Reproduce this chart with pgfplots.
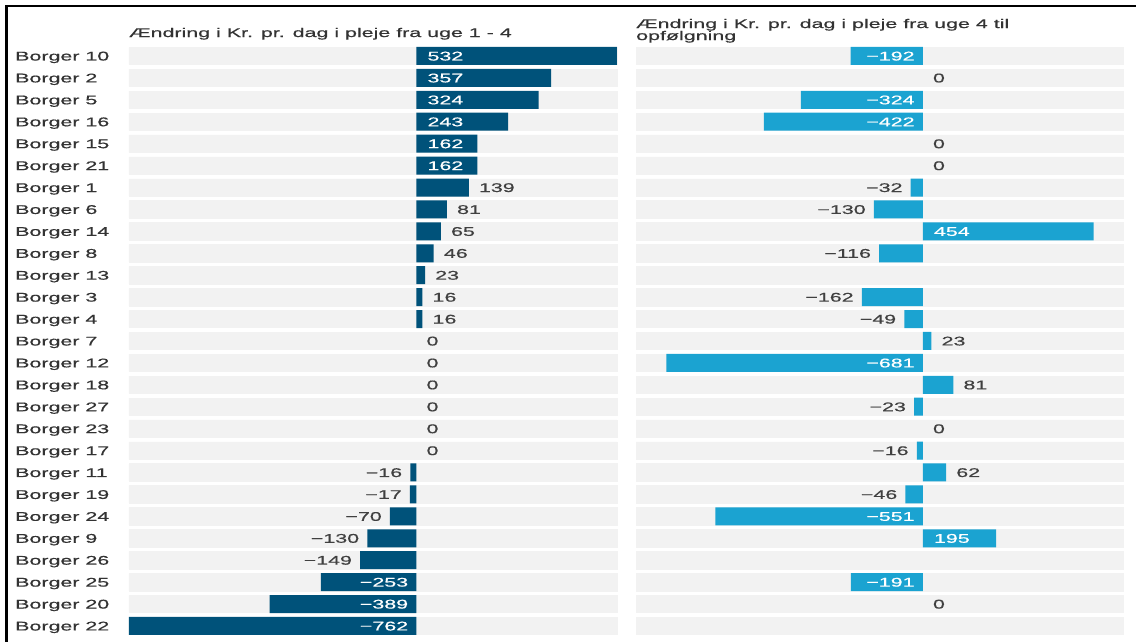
\documentclass[border=0pt]{standalone}
\usepackage{pgfplots}
\pgfplotsset{compat=1.18}
\usepackage{pgfplotstable}
\usepackage{fontspec}
\setmainfont{Liberation Sans}[FakeStretch=1.7, FakeBold=0.6]
\definecolor{dark}{HTML}{00527A}
\definecolor{light}{HTML}{1BA3D1}
\definecolor{band}{HTML}{F2F2F2}
\definecolor{txt}{HTML}{333333}
\definecolor{vtxt}{HTML}{404040}
\newcommand{\cf}{\fontsize{12.6}{12}\selectfont}

\pgfplotstableread{
row v t lab
0 532 1 532
1 357 1 357
2 324 1 324
3 243 1 243
4 162 1 162
5 162 1 162
6 139 2 139
7 81 2 81
8 65 2 65
9 46 2 46
10 23 2 23
11 16 2 16
12 16 2 16
13 0 2 0
14 0 2 0
15 0 2 0
16 0 2 0
17 0 2 0
18 0 2 0
19 -16 3 −16
20 -17 3 −17
21 -70 3 −70
22 -130 3 −130
23 -149 3 −149
24 -253 4 −253
25 -389 4 −389
26 -762 4 −762
}\lefttab

\pgfplotstableread{
row v t lab
0 -192 4 −192
1 0 2 0
2 -324 4 −324
3 -422 4 −422
4 0 2 0
5 0 2 0
6 -32 3 −32
7 -130 3 −130
8 454 1 454
9 -116 3 −116
11 -162 3 −162
12 -49 3 −49
13 23 2 23
14 -681 4 −681
15 81 2 81
16 -23 3 −23
17 0 2 0
18 -16 3 −16
19 62 2 62
20 -46 3 −46
21 -551 4 −551
22 195 1 195
24 -191 4 −191
25 0 2 0
}\righttab

\pgfplotsset{
  panel/.style={
    scale only axis, width=488pt, height=591.9pt,
    xmin=-762, xmax=532, ymin=-0.5, ymax=26.5, y dir=reverse,
    axis line style={draw=none}, tick style={draw=none},
    xtick=\empty, ytick=\empty, clip=false,
    anchor=north west,
    title style={at={(0,1)}, anchor=base west, inner sep=0pt, font=\cf, text=txt, align=left},
  },
  bandbar/.style={xbar, bar width=17.4pt, bar shift=0pt, fill=band, draw=band, line width=0.6pt, forget plot},
  valbar/.style={xbar, bar width=18pt, bar shift=0pt, draw=none, fill=#1,
    restrict expr to domain={abs(\thisrow{v})}{0.5:100000}},
  lbl/.style n args={4}{draw=none, mark=none, nodes near coords={\pgfplotspointmeta},
    point meta=explicit symbolic,
    restrict expr to domain={\thisrow{t}}{#1:#1},
    every node near coord/.style={anchor=#2, xshift=#3, yshift=-4.5pt, inner sep=0pt, font=\cf, text=#4}},
}

\begin{document}
\begin{tikzpicture}[x=1pt,y=1pt]
\useasboundingbox (0pt,0pt) rectangle (1136pt,-642pt);

\begin{axis}[panel, at={(129pt,-45pt)},
  title={Ændring i Kr. pr. dag i pleje fra uge 1 - 4},
  title style={yshift=2pt},
  ytick={0,...,26},
  yticklabels={Borger 10,Borger 2,Borger 5,Borger 16,Borger 15,Borger 21,Borger 1,Borger 6,Borger 14,Borger 8,Borger 13,Borger 3,Borger 4,Borger 7,Borger 12,Borger 18,Borger 27,Borger 23,Borger 17,Borger 11,Borger 19,Borger 24,Borger 9,Borger 26,Borger 25,Borger 20,Borger 22},
  yticklabel style={anchor=base west, xshift=-114pt, yshift=-4.5pt, inner sep=0pt, font=\cf, text=txt},
]
\addplot[bandbar] table[x expr=532, y=row] {\lefttab};
\addplot[bandbar] table[x expr=-762, y=row] {\lefttab};
\addplot[valbar=dark] table[x=v, y=row] {\lefttab};
\addplot[lbl={1}{base west}{11pt}{white}] table[x expr=0, y=row, meta=lab] {\lefttab};
\addplot[lbl={2}{base west}{10pt}{vtxt}] table[x=v, y=row, meta=lab] {\lefttab};
\addplot[lbl={3}{base east}{-8pt}{vtxt}] table[x=v, y=row, meta=lab] {\lefttab};
\addplot[lbl={4}{base east}{-8pt}{white}] table[x expr=0, y=row, meta=lab] {\lefttab};
\end{axis}

\begin{axis}[panel, at={(636pt,-45pt)}, width=487pt,
  title={Ændring i Kr. pr. dag i pleje fra uge 4 til\\opfølgning},
  title style={yshift=-1pt},
]
\addplot[bandbar] table[x expr=532, y=row] {\lefttab};
\addplot[bandbar] table[x expr=-762, y=row] {\lefttab};
\addplot[valbar=light] table[x=v, y=row] {\righttab};
\addplot[lbl={1}{base west}{11pt}{white}] table[x expr=0, y=row, meta=lab] {\righttab};
\addplot[lbl={2}{base west}{10pt}{vtxt}] table[x=v, y=row, meta=lab] {\righttab};
\addplot[lbl={3}{base east}{-8pt}{vtxt}] table[x=v, y=row, meta=lab] {\righttab};
\addplot[lbl={4}{base east}{-8pt}{white}] table[x expr=0, y=row, meta=lab] {\righttab};
\end{axis}

\draw[line width=2.5pt, black] (6.5pt,-642pt) -- (6.5pt,-6pt) -- (1136pt,-6pt);
\end{tikzpicture}
\end{document}
